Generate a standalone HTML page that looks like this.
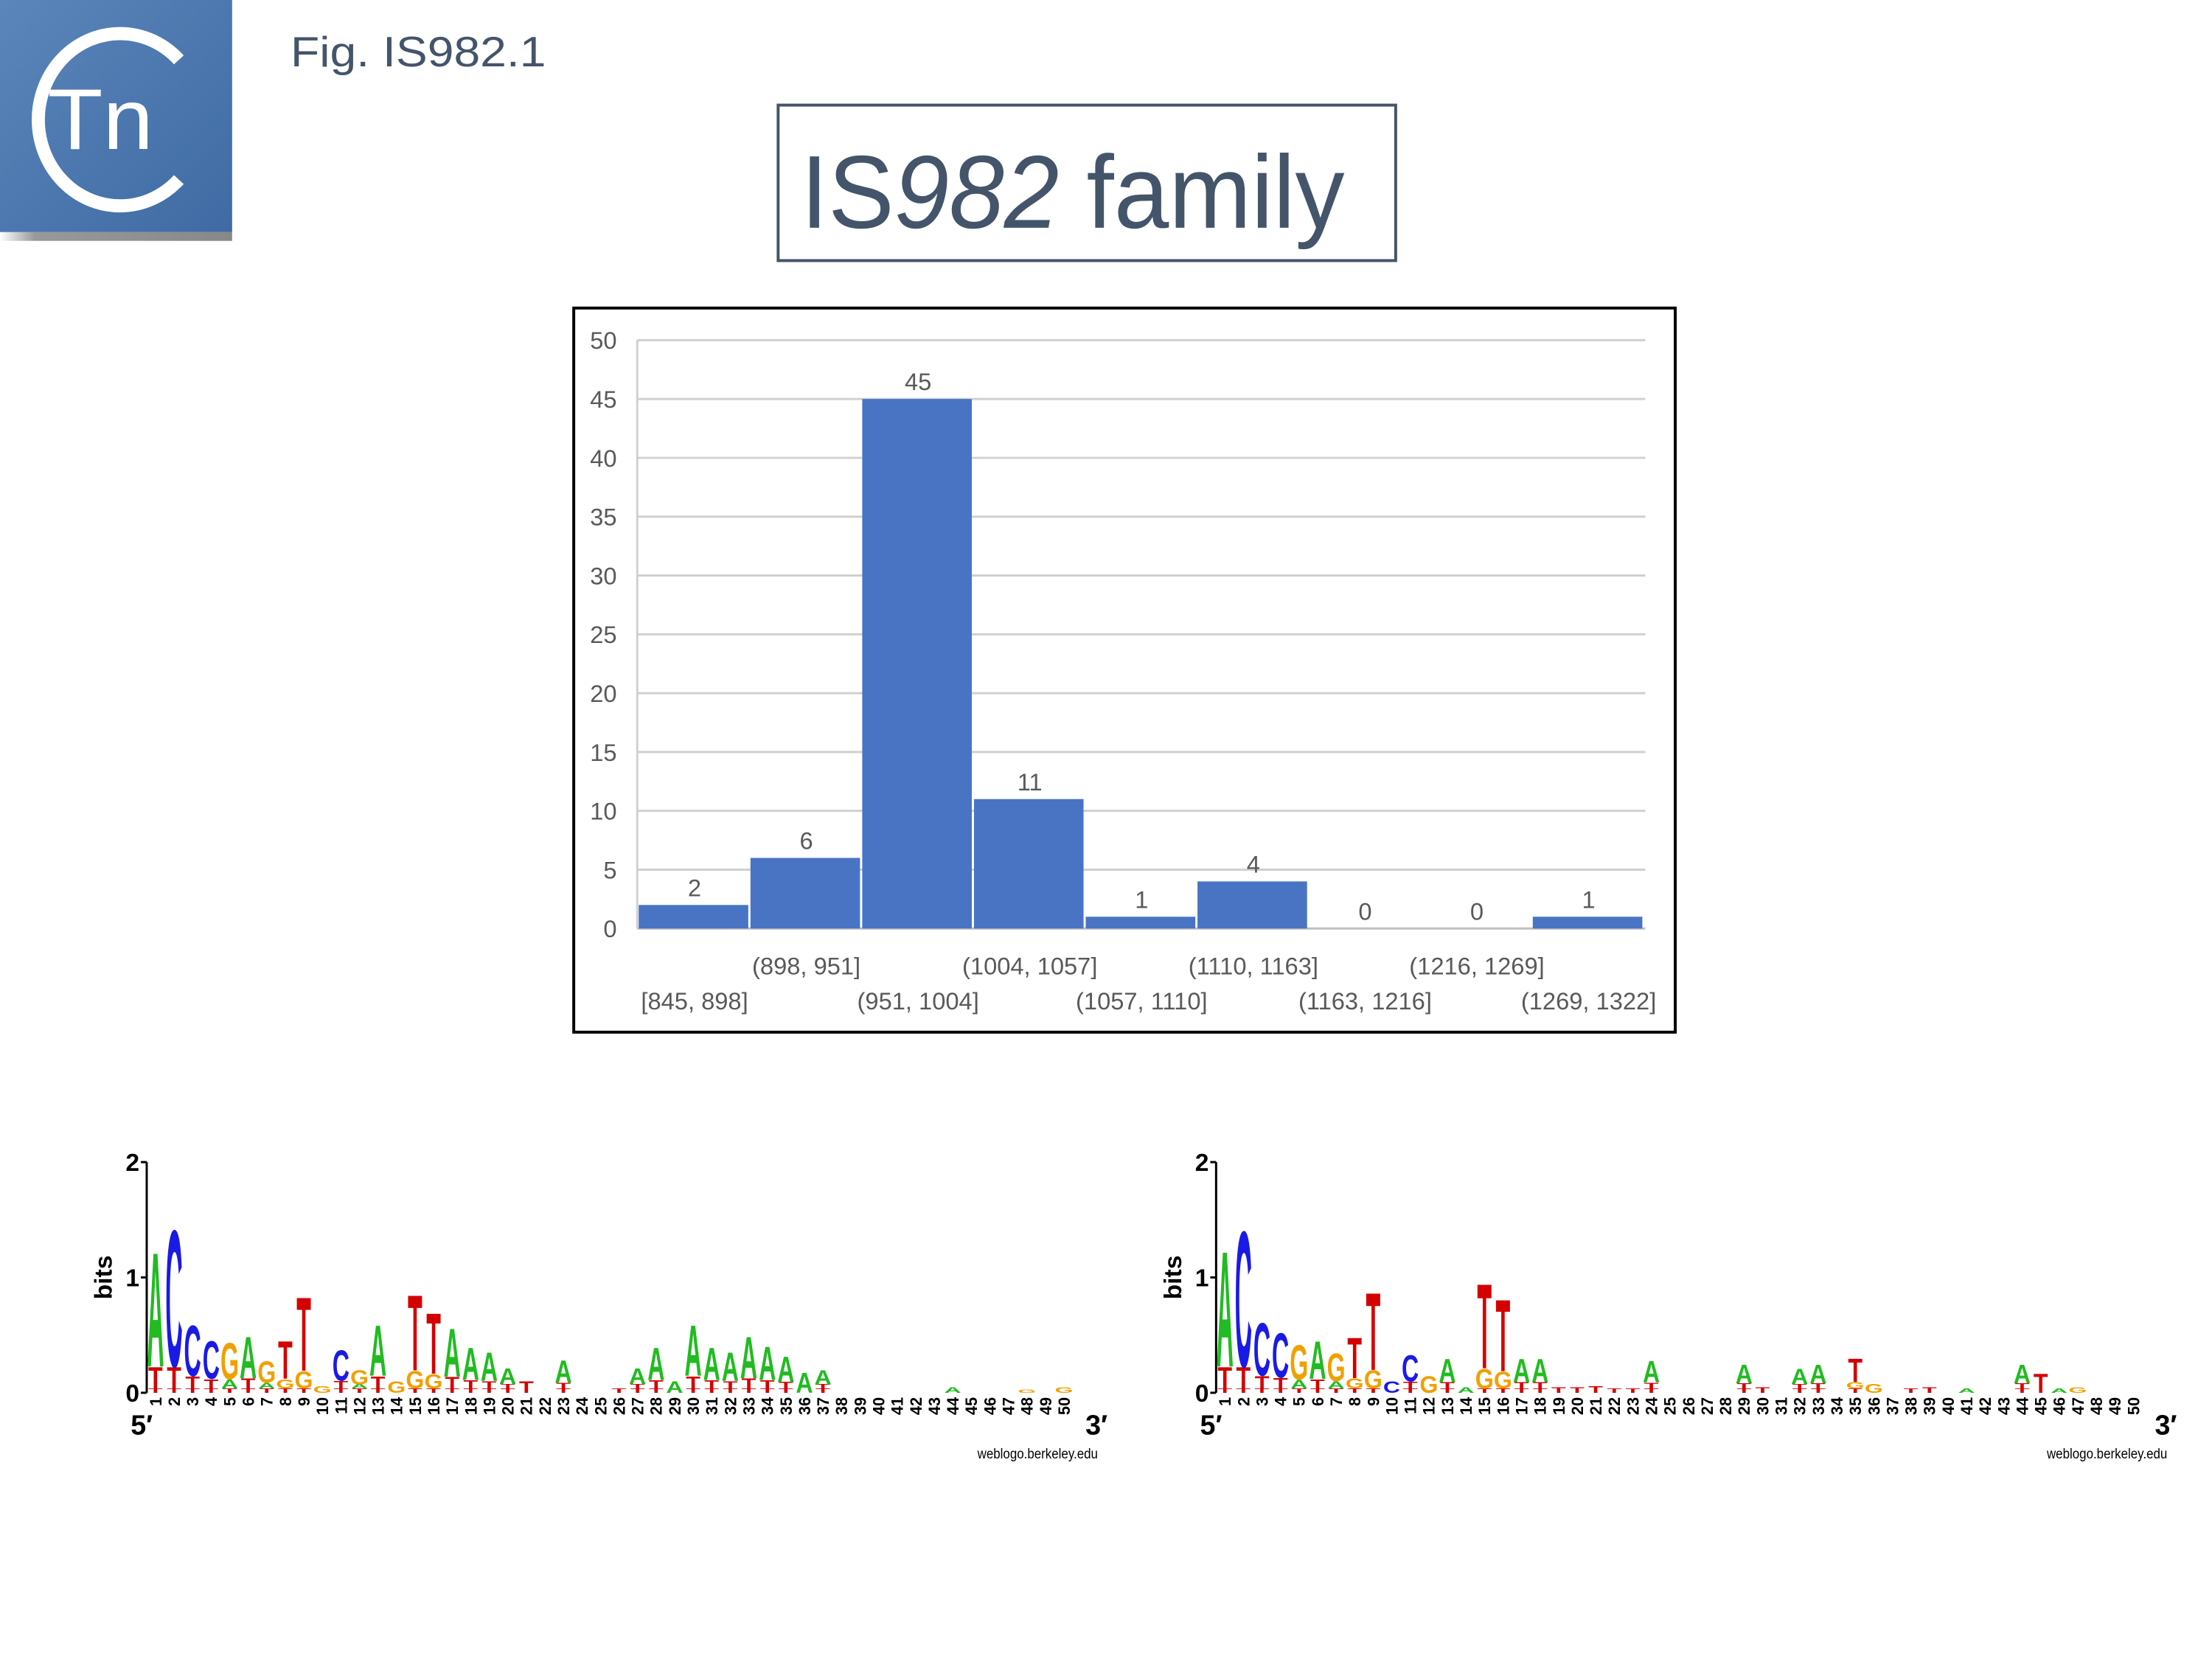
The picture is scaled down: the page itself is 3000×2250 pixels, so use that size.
<!DOCTYPE html>
<html><head><meta charset="utf-8">
<style>html,body{margin:0;padding:0;background:#fff;}svg{display:block;}</style>
</head><body>
<svg id="s" width="3000" height="2250" viewBox="0 0 3000 2250" xmlns="http://www.w3.org/2000/svg" font-family="Liberation Sans, sans-serif">
<rect width="3000" height="2250" fill="#fff"/>
<defs><linearGradient id="lg" x1="0" y1="0" x2="1" y2="1"><stop offset="0" stop-color="#5a86bb"/><stop offset="1" stop-color="#3f6aa3"/></linearGradient>
<linearGradient id="gb" x1="0" x2="1"><stop offset="0" stop-color="#fff"/><stop offset="0.15" stop-color="#999"/><stop offset="1" stop-color="#888"/></linearGradient></defs>
<g transform="scale(0.99)">
<rect x="0" y="0" width="318" height="318" fill="url(#lg)"/>
<rect x="0" y="318" width="318" height="12" fill="url(#gb)"/>
<path d="M 245 82 A 112 118 0 1 0 245 246" fill="none" stroke="#fff" stroke-width="18"/>
<text x="65" y="204" font-size="118" fill="#fff" textLength="145" lengthAdjust="spacingAndGlyphs">Tn</text>
<text x="398" y="91" font-size="58" fill="#44546a" textLength="350" lengthAdjust="spacingAndGlyphs">Fig. IS982.1</text>
<rect x="1066" y="144" width="846" height="213" fill="none" stroke="#44546a" stroke-width="4"/>
<text x="1097" y="312" font-size="142" fill="#44546a" textLength="745" lengthAdjust="spacingAndGlyphs">IS<tspan font-style="italic">982</tspan> family</text>
<rect x="786" y="422" width="1509" height="992" fill="#fff" stroke="#000" stroke-width="4"/>
<g id="chart"></g>
<g id="logos"></g>
</g>
</svg>
<script>
var NS="http://www.w3.org/2000/svg";
function el(p,t,a,txt){var e=document.createElementNS(NS,t);for(var k in a)e.setAttribute(k,a[k]);if(txt!=null)e.textContent=txt;p.appendChild(e);return e;}
var c=document.getElementById('chart');
var y0=1272,y50=466,px=(y0-y50)/50,xl=873,xr=2254,pitch=153.1;
for(var v=0;v<=50;v+=5){var y=y0-v*px;
 el(c,'line',{x1:xl,x2:xr,y1:y,y2:y,stroke:v==0?'#bfbfbf':'#d0d0d0','stroke-width':3});
 el(c,'text',{x:845,y:y+12,'font-size':33,fill:'#595959','text-anchor':'end'},String(v));}
el(c,'line',{x1:xl,x2:xl,y1:y50,y2:y0,stroke:'#d0d0d0','stroke-width':3});
var vals=[2,6,45,11,1,4,0,0,1];
var labs=['[845, 898]','(898, 951]','(951, 1004]','(1004, 1057]','(1057, 1110]','(1110, 1163]','(1163, 1216]','(1216, 1269]','(1269, 1322]'];
for(var i=0;i<9;i++){var x=875+i*pitch,h=vals[i]*px;
 if(h>0)el(c,'rect',{x:x,y:y0-h,width:pitch-3,height:h,fill:'#4874c3'});
 el(c,'text',{x:x+pitch/2,y:y0-h-12,'font-size':33,fill:'#595959','text-anchor':'middle'},String(vals[i]));
 el(c,'text',{x:x+pitch/2,y:i%2?1335:1383,'font-size':33,fill:'#595959','text-anchor':'middle'},labs[i]);}
var col={A:'#22bb22',C:'#1a1ae6',G:'#f0a000',T:'#d40000'};
var second={A:'T',C:'T',G:'A',T:'G'};
var L1={1:['A',1.25],2:['C',1.45],3:['C',.6],4:['C',.46],5:['G',.44],6:['A',.5],7:['G',.28],8:['T',.46],9:['T',.85],10:['G',.06],11:['C',.38],12:['G',.2],13:['A',.6],14:['G',.1],15:['T',.87],16:['T',.71],17:['A',.57],18:['A',.4],19:['A',.36],20:['A',.22],21:['T',.1],23:['A',.29],26:['T',.04],27:['A',.22],28:['A',.4],29:['A',.1],30:['A',.6],31:['A',.4],32:['A',.36],33:['A',.5],34:['A',.41],35:['A',.32],36:['A',.18],37:['A',.2],44:['A',.05],48:['G',.03],50:['G',.05]};
var L2={1:['A',1.26],2:['C',1.44],3:['C',.62],4:['C',.53],5:['G',.42],6:['A',.46],7:['G',.35],8:['T',.49],9:['T',.89],10:['C',.1],11:['C',.33],12:['G',.15],13:['A',.3],14:['A',.05],15:['T',.97],16:['T',.83],17:['A',.3],18:['A',.3],19:['T',.05],20:['T',.05],21:['T',.06],22:['T',.04],23:['T',.04],24:['A',.28],29:['A',.25],30:['T',.05],32:['A',.21],33:['A',.25],35:['T',.3],36:['G',.08],38:['T',.04],39:['T',.05],41:['A',.04],44:['A',.25],45:['T',.17],46:['A',.04],47:['G',.05]};
var g=document.getElementById('logos');
function letter(ch,cx,yb,w,h){if(h<2)h=2;
 el(g,'text',{x:0,y:0,'font-size':100,'font-weight':'bold',fill:col[ch],'text-anchor':'middle',transform:'translate('+cx+','+yb+') scale('+(w/72)+','+(h/72)+')'},ch);}
function logo(ax,data){var yz=1908,bit=158,p=25.4,x1=ax+12;
 el(g,'line',{x1:ax,x2:ax,y1:yz-2*bit,y2:yz,stroke:'#000','stroke-width':3});
 for(var b=0;b<=2;b++){el(g,'line',{x1:ax-8,x2:ax,y1:yz-b*bit,y2:yz-b*bit,stroke:'#000','stroke-width':3});
  el(g,'text',{x:ax-10,y:yz-b*bit+12,'font-size':34,'font-weight':'bold','text-anchor':'end'},String(b));}
 el(g,'text',{x:0,y:0,'font-size':34,'font-weight':'bold','text-anchor':'middle',transform:'translate('+(ax-48)+','+(yz-bit)+') rotate(-90)'},'bits');
 el(g,'text',{x:ax-22,y:1965,'font-size':38,'font-weight':'bold'},"5\u2032");
 el(g,'text',{x:ax+1286,y:1965,'font-size':38,'font-weight':'bold'},"3\u2032");
 el(g,'text',{x:ax+1303,y:1998,'font-size':20,'text-anchor':'end',textLength:165,lengthAdjust:'spacingAndGlyphs'},'weblogo.berkeley.edu');
 for(var i=1;i<=50;i++){var cx=x1+(i-1)*p;
  el(g,'text',{x:0,y:0,'font-size':22,'font-weight':'bold','text-anchor':'end',transform:'translate('+(cx+8)+','+(yz+6)+') rotate(-90)'},String(i));
  var d=data[i];if(!d)continue;var tot=d[1]*bit;var sh=tot>30?Math.min(tot*0.18,30):0;
  var yb=yz;
  if(tot>30){letter('T',cx,yb,p-2,6);yb-=6;letter(second[d[0]],cx,yb,p-2,sh);yb-=sh;letter(d[0],cx,yb,p-2,tot-sh-6);}
  else letter(d[0],cx,yb,p-2,tot);}}
logo(201,L1);logo(1666,L2);
</script>
</body></html>
